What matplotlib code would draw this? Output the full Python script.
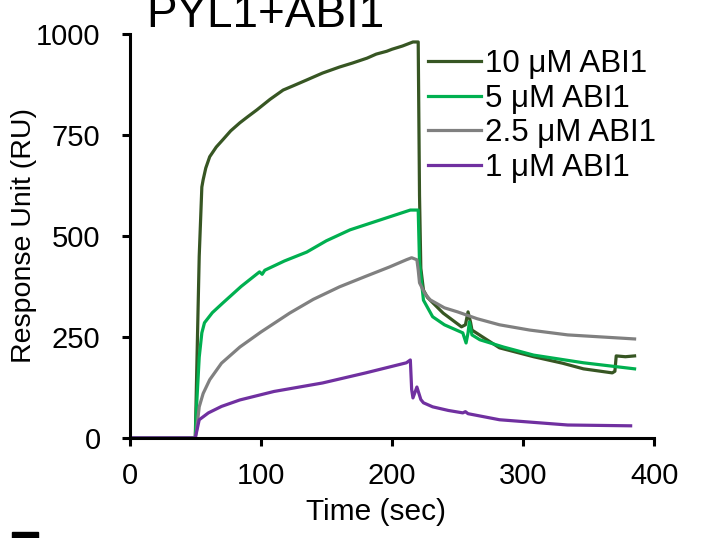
import matplotlib
matplotlib.use("Agg")
import matplotlib.pyplot as plt
from matplotlib.patches import Rectangle

plt.rcParams['font.family'] = ['Liberation Sans', 'DejaVu Sans']

# sensorgram points (time in sec, response in RU)
t_10 = [0, 50, 51, 53, 55, 56, 58, 61, 66, 71, 77, 84, 90, 97, 107, 117, 125,
        135, 147, 160, 170, 181, 188, 196, 200, 208, 216, 220, 221, 222, 224,
        227, 231, 239, 253, 256, 258, 260, 261, 270, 282, 308, 330, 346, 368,
        370, 371, 378, 385]
r_10 = [0, 0, 150, 450, 621, 639, 668, 696, 720, 738, 760, 780, 795, 812, 838,
        861, 872, 886, 903, 918, 928, 940, 950, 957, 962, 970, 980, 980, 600,
        420, 366, 348, 335, 309, 275, 280, 312, 285, 267, 248, 223, 201, 185,
        171, 161, 165, 203, 201, 203]

t_5 = [0, 50, 51, 53, 55, 57, 63, 71, 85, 99, 101, 103, 118, 135, 150, 168,
       198, 214, 220, 221, 224, 231, 240, 254, 256.5, 258, 259, 261, 267, 285,
       308, 346, 385]
r_5 = [0, 0, 80, 200, 260, 285, 310, 334, 375, 411, 405, 415, 438, 460, 488,
       515, 547, 564, 564, 433, 341, 300, 280, 260, 235, 260, 287, 255, 243,
       225, 205, 186, 171]

t_25 = [0, 50, 51, 53, 56, 61, 70, 84, 100, 122, 140, 160, 180, 198, 211, 215,
        219, 220, 221, 225, 229, 240, 250, 265, 282, 305, 334, 385]
r_25 = [0, 0, 20, 77, 110, 144, 185, 225, 262, 309, 343, 374, 400, 423, 441,
        446, 441, 416, 384, 358, 342, 322, 312, 295, 280, 267, 255, 245]

t_1 = [0, 50, 51, 53, 60, 70, 84, 110, 147, 180, 211, 214, 215, 216, 219, 222,
       224, 231, 243, 254, 256, 258, 282, 334, 382]
r_1 = [0, 0, 15, 45, 62, 78, 94, 115, 136, 161, 186, 193, 120, 99, 126, 95,
       87, 77, 68, 62, 65, 60, 45, 32, 30]

labels = ['10 μM ABI1', '5 μM ABI1', '2.5 μM ABI1', '1 μM ABI1']
colors = ['#375623', '#00B050', '#808080', '#7030A0']

fig = plt.figure(figsize=(7.05, 5.38), dpi=100)
ax = fig.add_axes([0.184, 0.186, 0.744, 0.751])

series = [(t_10, r_10), (t_5, r_5), (t_25, r_25), (t_1, r_1)]
for (t, r), lab, col in zip(series, labels, colors):
    ax.plot(t, r, color=col, lw=2.3, label=lab)

ax.set_xlim(0, 400)
ax.set_ylim(0, 1000)
ax.set_xticks([0, 100, 200, 300, 400])
ax.set_yticks([0, 250, 500, 750, 1000])
ax.tick_params(direction='out', length=6, width=2.2, labelsize=21)
ax.tick_params(axis='x', pad=11)
ax.tick_params(axis='y', pad=15)
for s in ['top', 'right']:
    ax.spines[s].set_visible(False)
for s in ['left', 'bottom']:
    ax.spines[s].set_linewidth(2.2)

ax.set_xlabel('Time (sec)', fontsize=21.5)
ax.set_ylabel('Response Unit (RU)', fontsize=20.5)
ax.xaxis.set_label_coords(0.47, -0.149)
ax.yaxis.set_label_coords(-0.176, 0.5)

ax.legend(loc='upper left', bbox_to_anchor=(0.568, 0.963), frameon=False,
          fontsize=22.5, handlelength=1.7, handletextpad=0.15,
          labelspacing=0.15, borderpad=0, borderaxespad=0)

fig.text(0.376, 0.95, 'PYL1+ABI1', fontsize=33, ha='center', va='baseline')

# cropped panel mark at the bottom left
fig.add_artist(Rectangle((12 / 705, 0), 26 / 705, 6 / 538,
                         transform=fig.transFigure, color='black'))

fig.savefig('out.png', dpi=100)
